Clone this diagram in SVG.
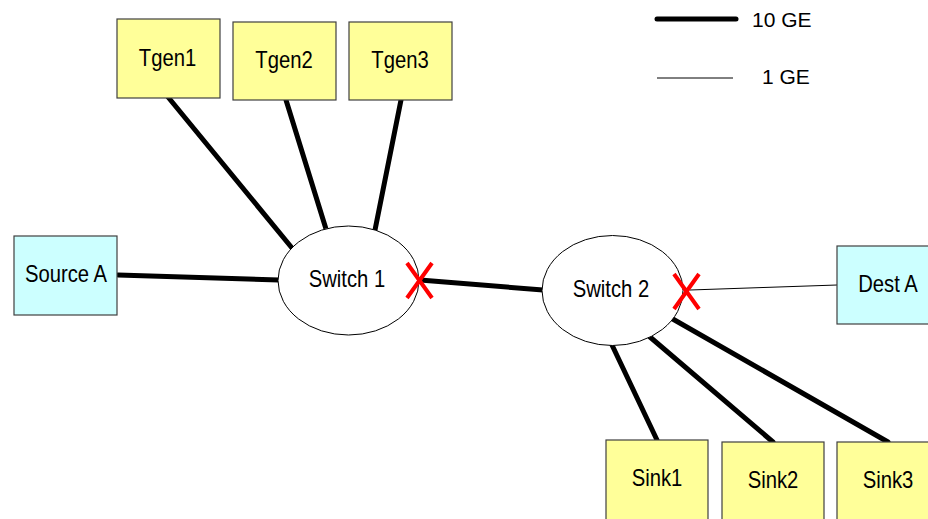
<svg xmlns="http://www.w3.org/2000/svg" width="928" height="519" viewBox="0 0 928 519">
  <style>
    .gen { fill: #FFFF99; stroke: #404040; stroke-width: 1.2; }
    .end { fill: #CCFFFF; stroke: #404040; stroke-width: 1.2; }
    .sw { fill: #FFFFFF; stroke: #000000; stroke-width: 1; }
    .lbl { font-family: "Liberation Sans", Arial, sans-serif; font-size: 23px; fill: #000; text-anchor: middle; }
    .leg { font-family: "Liberation Sans", Arial, sans-serif; font-size: 21px; fill: #000; }
    .ten { stroke: #000; stroke-width: 5; stroke-linecap: round; fill: none; }
    .one { stroke: #000; stroke-width: 1; fill: none; }
    .cut { stroke: #FF0000; stroke-width: 4; fill: none; }
  </style>
  <rect width="928" height="519" fill="#FFFFFF"/>

  <!-- links -->
  <g id="connectors">
    <line class="ten" x1="118" y1="275" x2="279" y2="280"/>
    <line class="ten" x1="168" y1="97" x2="292" y2="248"/>
    <line class="ten" x1="286" y1="100" x2="326" y2="229"/>
    <line class="ten" x1="401" y1="100" x2="375" y2="230"/>
    <line class="ten" x1="420" y1="280" x2="543" y2="290"/>
    <line class="one" x1="690" y1="290" x2="837" y2="285"/>
    <line class="ten" x1="612" y1="345" x2="657" y2="440"/>
    <line class="ten" x1="650" y1="337" x2="773" y2="442"/>
    <line class="ten" x1="671" y1="318" x2="888" y2="442"/>
  </g>

  <!-- labels use a slightly condensed face: matrix(0.88 0 0 1 x y) -->
  <g id="tgen1"><rect class="gen" x="117" y="19" width="103" height="79"/><text class="lbl" transform="matrix(0.88 0 0 1 167.5 66)">Tgen1</text></g>
  <g id="tgen2"><rect class="gen" x="233" y="22" width="103" height="78"/><text class="lbl" transform="matrix(0.88 0 0 1 284 68)">Tgen2</text></g>
  <g id="tgen3"><rect class="gen" x="349" y="22" width="103" height="78"/><text class="lbl" transform="matrix(0.88 0 0 1 400 68)">Tgen3</text></g>

  <g id="source-a"><rect class="end" x="14" y="236" width="103" height="79"/><text class="lbl" transform="matrix(0.88 0 0 1 66 282)">Source A</text></g>
  <g id="dest-a"><rect class="end" x="837" y="246" width="103" height="78"/><text class="lbl" transform="matrix(0.88 0 0 1 888 292)">Dest A</text></g>

  <g id="switch1"><ellipse class="sw" cx="348.5" cy="280.5" rx="70.5" ry="54.5"/><text class="lbl" transform="matrix(0.88 0 0 1 347 287)">Switch 1</text></g>
  <g id="switch2"><ellipse class="sw" cx="612.5" cy="290.5" rx="70.5" ry="55"/><text class="lbl" transform="matrix(0.88 0 0 1 611 297)">Switch 2</text></g>

  <g id="sink1"><rect class="gen" x="606" y="440" width="102" height="85"/><text class="lbl" transform="matrix(0.88 0 0 1 657 486)">Sink1</text></g>
  <g id="sink2"><rect class="gen" x="722" y="442" width="102" height="85"/><text class="lbl" transform="matrix(0.88 0 0 1 773 488)">Sink2</text></g>
  <g id="sink3"><rect class="gen" x="837" y="442" width="102" height="85"/><text class="lbl" transform="matrix(0.88 0 0 1 888 488)">Sink3</text></g>

  <!-- failed ports -->
  <g id="cut1"><path class="cut" d="M407,263 L432,298 M432,263 L407,298"/></g>
  <g id="cut2"><path class="cut" d="M674,274 L699,309 M699,274 L674,309"/></g>

  <!-- legend -->
  <g id="legend">
    <line class="ten" x1="657" y1="19" x2="736" y2="19"/>
    <text class="leg" x="752" y="27">10 GE</text>
    <line class="one" x1="657" y1="78" x2="733" y2="78"/>
    <text class="leg" x="762" y="84">1 GE</text>
  </g>
</svg>
